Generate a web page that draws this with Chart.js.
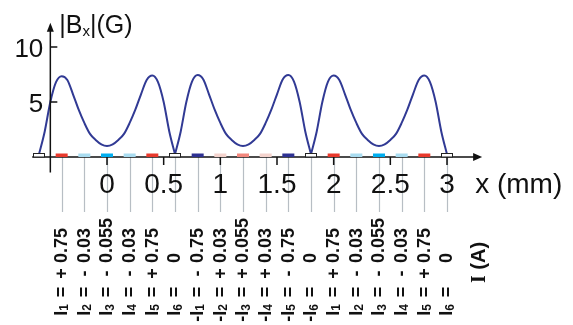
<!DOCTYPE html>
<html>
<head>
<meta charset="utf-8">
<style>
  html, body { margin: 0; padding: 0; background: #fff; }
  canvas { display: block; }
</style>
</head>
<body>
<canvas id="fieldChart" width="573" height="325"></canvas>
<script src="https://cdn.jsdelivr.net/npm/chart.js@4.4.1/dist/chart.umd.min.js"></script>
<script>
// |Bx| (G), one array per 1.2 mm period
const period1X = [-0.6, -0.55, -0.5, -0.45, -0.4, -0.35, -0.3, -0.25, -0.2, -0.15, -0.1, -0.05, 0, 0.05, 0.1, 0.15, 0.2, 0.25, 0.3, 0.35, 0.4, 0.45, 0.5, 0.55, 0.6];
const period1B = [0.25, 2.3, 5.0, 6.8, 7.35, 7.0, 5.7, 4.3, 3.1, 2.1, 1.55, 1.15, 1.0, 1.15, 1.55, 2.1, 3.1, 4.3, 5.7, 7.0, 7.4, 6.8, 5.0, 2.3, 0.25];
const period2X = [0.6, 0.65, 0.7, 0.75, 0.8, 0.85, 0.9, 0.95, 1.0, 1.05, 1.1, 1.15, 1.2, 1.25, 1.3, 1.35, 1.4, 1.45, 1.5, 1.55, 1.6, 1.65, 1.7, 1.75, 1.8];
const period2B = [0.25, 2.3, 5.0, 6.85, 7.45, 7.05, 5.7, 4.3, 3.1, 2.1, 1.55, 1.15, 1.0, 1.15, 1.55, 2.1, 3.1, 4.3, 5.7, 7.05, 7.45, 6.85, 5.0, 2.3, 0.25];
const period3X = [1.8, 1.85, 1.9, 1.95, 2.0, 2.05, 2.1, 2.15, 2.2, 2.25, 2.3, 2.35, 2.4, 2.45, 2.5, 2.55, 2.6, 2.65, 2.7, 2.75, 2.8, 2.85, 2.9, 2.95, 3.0];
const period3B = [0.25, 2.3, 5.0, 6.85, 7.4, 7.0, 5.7, 4.3, 3.1, 2.1, 1.55, 1.15, 1.0, 1.15, 1.55, 2.1, 3.1, 4.3, 5.7, 7.0, 7.4, 6.8, 5.0, 2.3, 0.25];

// coils along the axis and their currents (A)
const coilX = [-0.6, -0.4, -0.2, 0, 0.2, 0.4, 0.6, 0.8, 1.0, 1.2, 1.4, 1.6, 1.8, 2.0, 2.2, 2.4, 2.6, 2.8, 3.0];
const coilNames = [null, 'I1', 'I2', 'I3', 'I4', 'I5', 'I6', '-I1', '-I2', '-I3', '-I4', '-I5', '-I6', 'I1', 'I2', 'I3', 'I4', 'I5', 'I6'];
const coilCurrents = [0, 0.75, -0.03, -0.055, -0.03, 0.75, 0, -0.75, 0.03, 0.055, 0.03, -0.75, 0, 0.75, -0.03, -0.055, -0.03, 0.75, 0];

const xTicks = [0, 0.5, 1, 1.5, 2, 2.5, 3];
const yTicks = [5, 10];

const FONT = '"Liberation Sans", Arial, Helvetica, sans-serif';

function coilColor(current) {
    if (current === 0.75) return '#e8392c';
    if (current === -0.75) return '#2e3192';
    if (current === -0.03) return '#a9dcf0';
    if (current === -0.055) return '#00aeef';
    if (current === 0.03) return '#f4d3cd';
    if (current === 0.055) return '#f2877d';
    return '#ffffff';
}

function toPoints(xs, ys) {
    return xs.map((x, i) => ({ x: x, y: ys[i] }));
}

function drawCoilLabel(ctx, px, name, current) {
    ctx.save();
    ctx.translate(px, 0);
    ctx.rotate(-Math.PI / 2);
    ctx.fillStyle = '#111';
    ctx.textBaseline = 'middle';
    const big = 'bold 18px ' + FONT;
    const small = 'bold 12px ' + FONT;

    // value, sign and '=' (u = -screen y)
    ctx.font = big;
    ctx.textAlign = 'left';
    ctx.fillText(String(Math.abs(current)), -263, 0.5);
    ctx.textAlign = 'center';
    if (current > 0) ctx.fillText('+', -273.5, 0.5);
    if (current < 0) ctx.fillText('-', -273.5, 0.5);
    ctx.fillText('=', -292, 0.5);

    // name, ends just below the '='
    const neg = name.charAt(0) === '-';
    const idx = name.slice(-1);
    ctx.textAlign = 'right';
    ctx.font = small;
    ctx.fillText(idx, -304, 3.5);
    let u = -304 - ctx.measureText(idx).width;
    ctx.font = big;
    ctx.fillText('I', u, 0.5);
    u -= ctx.measureText('I').width;
    if (neg) ctx.fillText('-', u, 0.5);
    ctx.restore();
}

const axesPlugin = {
    id: 'axesPlugin',
    afterDatasetsDraw(chart) {
        const ctx = chart.ctx;
        const x = chart.scales.x;
        const y = chart.scales.y;
        const y0 = y.getPixelForValue(0);
        const yAxisX = x.getPixelForValue(-0.5);
        const xStart = x.getPixelForValue(-0.66);
        const xEnd = x.getPixelForValue(3.31);
        const yTop = y.getPixelForValue(12.2);
        const yBottom = y.getPixelForValue(-1.4);

        ctx.save();

        // grey leader lines from the coils to their labels
        ctx.strokeStyle = '#b7bec4';
        ctx.lineWidth = 1.2;
        coilX.forEach((c, i) => {
            if (!coilNames[i]) return;
            const px = Math.round(x.getPixelForValue(c)) + 0.5;
            ctx.beginPath();
            ctx.moveTo(px, y0);
            ctx.lineTo(px, y0 + 55);
            ctx.stroke();
        });

        // axes
        ctx.strokeStyle = '#111';
        ctx.fillStyle = '#111';
        ctx.lineWidth = 1.5;
        ctx.beginPath();
        ctx.moveTo(xStart, y0);
        ctx.lineTo(xEnd - 8, y0);
        ctx.moveTo(yAxisX, yBottom);
        ctx.lineTo(yAxisX, yTop + 8);
        ctx.stroke();

        ctx.beginPath();
        ctx.moveTo(xEnd, y0);
        ctx.lineTo(xEnd - 9, y0 - 4);
        ctx.lineTo(xEnd - 9, y0 + 4);
        ctx.closePath();
        ctx.fill();
        ctx.beginPath();
        ctx.moveTo(yAxisX, yTop);
        ctx.lineTo(yAxisX - 3.5, yTop + 9);
        ctx.lineTo(yAxisX + 3.5, yTop + 9);
        ctx.closePath();
        ctx.fill();

        // ticks
        ctx.beginPath();
        xTicks.forEach(v => {
            const px = x.getPixelForValue(v);
            ctx.moveTo(px, y0);
            ctx.lineTo(px, y0 + 8);
        });
        yTicks.forEach(v => {
            const py = y.getPixelForValue(v);
            ctx.moveTo(yAxisX, py);
            ctx.lineTo(yAxisX + 7, py);
        });
        ctx.stroke();

        // coil markers
        coilX.forEach((c, i) => {
            const px = x.getPixelForValue(c);
            ctx.fillStyle = coilColor(coilCurrents[i]);
            ctx.fillRect(px - 6, y0 - 3.5, 12, 3.5);
            if (coilCurrents[i] === 0) {
                ctx.strokeStyle = '#222';
                ctx.lineWidth = 1;
                ctx.strokeRect(px - 5.5, y0 - 3.5, 11, 3.5);
            }
        });

        // tick labels
        ctx.fillStyle = '#111';
        ctx.font = '28px ' + FONT;
        ctx.textAlign = 'center';
        ctx.textBaseline = 'alphabetic';
        xTicks.forEach(v => {
            ctx.fillText(String(v), x.getPixelForValue(v), y0 + 36);
        });
        ctx.textAlign = 'left';
        ctx.fillText('x (mm)', xEnd - 7, y0 + 36);

        ctx.font = '26px ' + FONT;
        ctx.textAlign = 'right';
        yTicks.forEach(v => {
            ctx.fillText(String(v), yAxisX - 7, y.getPixelForValue(v) + 9.5);
        });

        // y title |Bx|(G)
        ctx.textAlign = 'left';
        let tx = yAxisX + 9;
        ctx.font = '25px ' + FONT;
        ctx.fillText('|B', tx, 33);
        tx += ctx.measureText('|B').width;
        ctx.font = '15px ' + FONT;
        ctx.fillText('x', tx, 36);
        tx += ctx.measureText('x').width;
        ctx.font = '25px ' + FONT;
        ctx.fillText('|(G)', tx, 33);

        // coil current labels
        coilX.forEach((c, i) => {
            if (!coilNames[i]) return;
            drawCoilLabel(ctx, x.getPixelForValue(c), coilNames[i], coilCurrents[i]);
        });

        // I (A)
        ctx.save();
        ctx.translate(xEnd - 3, 262.5);
        ctx.rotate(-Math.PI / 2);
        ctx.textBaseline = 'middle';
        ctx.textAlign = 'left';
        const serif = 'bold 20px "Liberation Serif", "Times New Roman", serif';
        const sans = 'bold 20px ' + FONT;
        ctx.font = serif;
        const wI = ctx.measureText('I').width;
        ctx.font = sans;
        const wA = ctx.measureText(' (A)').width;
        let u = -(wI + wA) / 2;
        ctx.font = serif;
        ctx.fillText('I', u, 0.5);
        ctx.font = sans;
        ctx.fillText(' (A)', u + wI, 0.5);
        ctx.restore();

        ctx.restore();
    }
};

const lineStyle = {
    borderColor: '#313a94',
    borderWidth: 2,
    pointRadius: 0,
    fill: false,
    cubicInterpolationMode: 'monotone'
};

new Chart(document.getElementById('fieldChart'), {
    type: 'line',
    data: {
        datasets: [
            Object.assign({ label: 'period 1', data: toPoints(period1X, period1B) }, lineStyle),
            Object.assign({ label: 'period 2', data: toPoints(period2X, period2B) }, lineStyle),
            Object.assign({ label: 'period 3', data: toPoints(period3X, period3B) }, lineStyle)
        ]
    },
    options: {
        responsive: false,
        animation: false,
        devicePixelRatio: 1,
        events: [],
        layout: { padding: { left: 22, right: 92, top: 25, bottom: 157 } },
        scales: {
            x: { type: 'linear', min: -0.75, max: 3.3, display: false },
            y: { type: 'linear', min: -1, max: 12, display: false }
        },
        plugins: {
            legend: { display: false },
            tooltip: { enabled: false }
        }
    },
    plugins: [axesPlugin]
});
</script>
</body>
</html>
